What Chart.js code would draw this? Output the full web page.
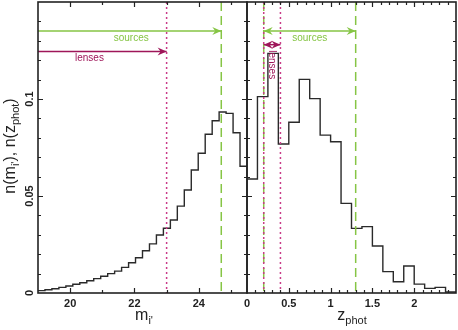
<!DOCTYPE html>
<html>
<head>
<meta charset="utf-8">
<script src="https://cdn.jsdelivr.net/npm/chart.js@4"></script>
<style>
    html, body { margin: 0; padding: 0; background: #fff; }
    #wrap { position: relative; width: 458px; height: 330px; }
    #wrap canvas { position: absolute; left: 0; top: 0; }
</style>
</head>
<body>
<div id="wrap">
    <canvas id="magChart" width="458" height="330"></canvas>
    <canvas id="zChart" width="458" height="330"></canvas>
</div>
<script>
// bin edges and normalised counts
const magEdges = [19.000, 19.217, 19.433, 19.650, 19.867, 20.083, 20.300, 20.517, 20.733, 20.950,
    21.167, 21.383, 21.600, 21.817, 22.033, 22.250, 22.467, 22.683, 22.900, 23.117,
    23.333, 23.550, 23.767, 23.983, 24.200, 24.417, 24.633, 24.850, 25.067, 25.283, 25.500];
const magDensity = [0.0012, 0.0017, 0.0022, 0.0029, 0.0036, 0.0045, 0.0053, 0.0063, 0.0074, 0.0086,
    0.0100, 0.0113, 0.0132, 0.0156, 0.0182, 0.0218, 0.0253, 0.0299, 0.0334, 0.0376,
    0.0448, 0.0531, 0.0634, 0.0720, 0.0818, 0.0888, 0.0933, 0.0926, 0.0826, 0.0653];

const zEdges = [0, 0.125, 0.25, 0.375, 0.5, 0.625, 0.75, 0.875, 1, 1.125,
    1.25, 1.375, 1.5, 1.625, 1.75, 1.875, 2, 2.125, 2.25, 2.375, 2.5];
const zDensity = [0.0588, 0.1012, 0.1235, 0.0768, 0.0880, 0.1101, 0.1002, 0.0814, 0.0780, 0.0462,
    0.0333, 0.0342, 0.0242, 0.0110, 0.0058, 0.0139, 0.0046, 0.0024, 0.0029, 0.0005];

const magTicks = [20, 22, 24];
const zTicks = [0, 0.5, 1, 1.5, 2];
const yTicks = [0, 0.05, 0.1];
const magTickLabels = ['20', '22', '24'];
const zTickLabels = ['0', '0.5', '1', '1.5', '2'];
const yTickLabels = ['0', '0.05', '0.1'];

const lensMagCut = 23.0;
const sourceMagCut = 24.7;
const lensZRange = [0.2, 0.4];
const sourceZRange = [0.2, 1.3];
const sourceArrowY = 0.135;
const lensArrowY = 0.1245;
const lensZArrowY = 0.128;

const GREEN = '#86c545';
const MAGENTA = '#9e1659';
const DOTS = '#c93b88';
const INK = '#222';
const FONT = '"Liberation Sans", Arial, sans-serif';

function stepPoints(edges, values) {
    const pts = values.map((v, i) => ({ x: edges[i], y: v }));
    pts.push({ x: edges[edges.length - 1], y: values[values.length - 1] });
    return pts;
}

function vLine(ctx, chart, x, color, dash) {
    const a = chart.chartArea;
    ctx.save();
    ctx.strokeStyle = color;
    ctx.lineWidth = 1.5;
    ctx.setLineDash(dash);
    ctx.beginPath();
    ctx.moveTo(x, a.top);
    ctx.lineTo(x, a.bottom);
    ctx.stroke();
    ctx.restore();
}

function arrowHead(ctx, x, y, dir, color) {
    ctx.fillStyle = color;
    ctx.beginPath();
    ctx.moveTo(x, y);
    ctx.lineTo(x - dir * 9, y - 4);
    ctx.lineTo(x - dir * 6, y);
    ctx.lineTo(x - dir * 9, y + 4);
    ctx.closePath();
    ctx.fill();
}

function arrow(ctx, x1, x2, y, color, both) {
    ctx.save();
    ctx.strokeStyle = color;
    ctx.lineWidth = 1.5;
    ctx.beginPath();
    ctx.moveTo(x1, y);
    ctx.lineTo(x2, y);
    ctx.stroke();
    arrowHead(ctx, x2, y, 1, color);
    if (both) arrowHead(ctx, x1, y, -1, color);
    ctx.restore();
}

function drawTicks(ctx, chart, xStep, isMajorX, leftTicks, rightTicks) {
    const a = chart.chartArea;
    const xs = chart.scales.x;
    const ys = chart.scales.y;
    ctx.save();
    ctx.strokeStyle = INK;
    ctx.lineWidth = 1.2;
    ctx.beginPath();
    for (let i = 1; i * 0.01 < 0.15 - 1e-9; i++) {
        const v = i * 0.01;
        const len = i % 5 === 0 ? 5 : 3;
        const py = Math.round(ys.getPixelForValue(v)) + 0.5;
        if (leftTicks) { ctx.moveTo(a.left, py); ctx.lineTo(a.left + len, py); }
        if (rightTicks) { ctx.moveTo(a.right, py); ctx.lineTo(a.right - len, py); }
    }
    const n = Math.round((xs.max - xs.min) / xStep);
    for (let i = 1; i < n; i++) {
        const v = xs.min + i * xStep;
        const len = isMajorX(v) ? 5 : 3;
        const px = Math.round(xs.getPixelForValue(v)) + 0.5;
        ctx.moveTo(px, a.bottom); ctx.lineTo(px, a.bottom - len);
        ctx.moveTo(px, a.top); ctx.lineTo(px, a.top + len);
    }
    ctx.stroke();
    ctx.lineWidth = 1.6;
    ctx.strokeRect(a.left, a.top, a.right - a.left, a.bottom - a.top);
    ctx.restore();
}

function drawXLabels(ctx, chart, values, labels) {
    const xs = chart.scales.x;
    ctx.save();
    ctx.fillStyle = INK;
    ctx.font = 'bold 11px ' + FONT;
    ctx.textAlign = 'center';
    ctx.textBaseline = 'middle';
    values.forEach((v, i) => ctx.fillText(labels[i], xs.getPixelForValue(v), 304));
    ctx.restore();
}

function drawRichText(ctx, parts, cx, cy, angle) {
    ctx.save();
    ctx.translate(cx, cy);
    ctx.rotate(angle);
    ctx.fillStyle = INK;
    ctx.textBaseline = 'alphabetic';
    ctx.textAlign = 'left';
    let total = 0;
    parts.forEach((p) => {
        ctx.font = (p.sub ? '11px ' : '16px ') + FONT;
        total += ctx.measureText(p.t).width;
    });
    let x = -total / 2;
    parts.forEach((p) => {
        ctx.font = (p.sub ? '11px ' : '16px ') + FONT;
        ctx.fillText(p.t, x, p.sub ? 4 : 0);
        x += ctx.measureText(p.t).width;
    });
    ctx.restore();
}

const magDecor = {
    id: 'magDecor',
    afterDatasetsDraw(chart) {
        const ctx = chart.ctx;
        const xs = chart.scales.x;
        const ys = chart.scales.y;
        const a = chart.chartArea;

        vLine(ctx, chart, xs.getPixelForValue(lensMagCut), DOTS, [2, 3]);
        vLine(ctx, chart, xs.getPixelForValue(sourceMagCut), GREEN, [9, 5]);

        const ySrc = ys.getPixelForValue(sourceArrowY);
        const yLens = ys.getPixelForValue(lensArrowY);
        arrow(ctx, a.left, xs.getPixelForValue(sourceMagCut), ySrc, GREEN, false);
        arrow(ctx, a.left, xs.getPixelForValue(lensMagCut), yLens, MAGENTA, false);

        ctx.save();
        ctx.font = '10px ' + FONT;
        ctx.textAlign = 'center';
        ctx.textBaseline = 'middle';
        ctx.fillStyle = GREEN;
        ctx.fillText('sources', xs.getPixelForValue(21.9), ySrc + 7);
        ctx.fillStyle = MAGENTA;
        ctx.fillText('lenses', xs.getPixelForValue(20.6), yLens + 7);
        ctx.restore();

        drawTicks(ctx, chart, 1, (v) => Math.round(v) % 2 === 0, true, true);
        drawXLabels(ctx, chart, magTicks, magTickLabels);

        ctx.save();
        ctx.fillStyle = INK;
        ctx.font = 'bold 11px ' + FONT;
        ctx.textAlign = 'center';
        ctx.textBaseline = 'middle';
        yTicks.forEach((v, i) => {
            ctx.save();
            ctx.translate(30, ys.getPixelForValue(v));
            ctx.rotate(-Math.PI / 2);
            ctx.fillText(yTickLabels[i], 0, 0);
            ctx.restore();
        });
        ctx.restore();

        drawRichText(ctx, [{ t: 'm' }, { t: "i'", sub: true }], 144, 320, 0);
        drawRichText(ctx, [
            { t: 'n(m' }, { t: "i'", sub: true }, { t: '), n(z' }, { t: 'phot', sub: true }, { t: ')' },
        ], 15, 146, -Math.PI / 2);
    },
};

const zDecor = {
    id: 'zDecor',
    afterDatasetsDraw(chart) {
        const ctx = chart.ctx;
        const xs = chart.scales.x;
        const ys = chart.scales.y;

        const zs0 = xs.getPixelForValue(sourceZRange[0]);
        const zs1 = xs.getPixelForValue(sourceZRange[1]);
        const zl0 = xs.getPixelForValue(lensZRange[0]);
        const zl1 = xs.getPixelForValue(lensZRange[1]);

        vLine(ctx, chart, zs0, GREEN, [9, 5]);
        vLine(ctx, chart, zs1, GREEN, [9, 5]);
        vLine(ctx, chart, zl0, DOTS, [2, 3]);
        vLine(ctx, chart, zl1, DOTS, [2, 3]);

        const ySrc = ys.getPixelForValue(sourceArrowY);
        const yLens = ys.getPixelForValue(lensZArrowY);
        arrow(ctx, zs0, zs1, ySrc, GREEN, true);
        arrow(ctx, zl0, zl1, yLens, MAGENTA, true);

        ctx.save();
        ctx.font = '10px ' + FONT;
        ctx.textAlign = 'center';
        ctx.textBaseline = 'middle';
        ctx.fillStyle = GREEN;
        ctx.fillText('sources', (zs0 + zs1) / 2, ySrc + 7);
        ctx.fillStyle = MAGENTA;
        ctx.translate((zl0 + zl1) / 2, yLens + 20);
        ctx.rotate(Math.PI / 2);
        ctx.fillText('lenses', 0, 0);
        ctx.restore();

        drawTicks(ctx, chart, 0.1, (v) => Math.abs(v * 2 - Math.round(v * 2)) < 1e-6, true, true);
        drawXLabels(ctx, chart, zTicks, zTickLabels);
        drawRichText(ctx, [{ t: 'z' }, { t: 'phot', sub: true }], 352, 320, 0);
    },
};

function makeHistChart(id, edges, values, xMin, xMax, padding, decor) {
    return new Chart(document.getElementById(id), {
        type: 'line',
        data: {
            datasets: [{
                data: stepPoints(edges, values),
                borderColor: '#2a2a2a',
                borderWidth: 1.4,
                pointRadius: 0,
                stepped: true,
                fill: false,
            }],
        },
        options: {
            responsive: false,
            animation: false,
            layout: { padding },
            plugins: { legend: { display: false }, tooltip: { enabled: false } },
            scales: {
                x: { type: 'linear', min: xMin, max: xMax, display: false },
                y: { type: 'linear', min: 0, max: 0.15, display: false },
            },
        },
        plugins: [decor],
    });
}

makeHistChart('magChart', magEdges, magDensity, 19, 25.5, { left: 38, right: 211, top: 2, bottom: 37 }, magDecor);
makeHistChart('zChart', zEdges, zDensity, 0, 2.5, { left: 247, right: 2, top: 2, bottom: 37 }, zDecor);
</script>
</body>
</html>
